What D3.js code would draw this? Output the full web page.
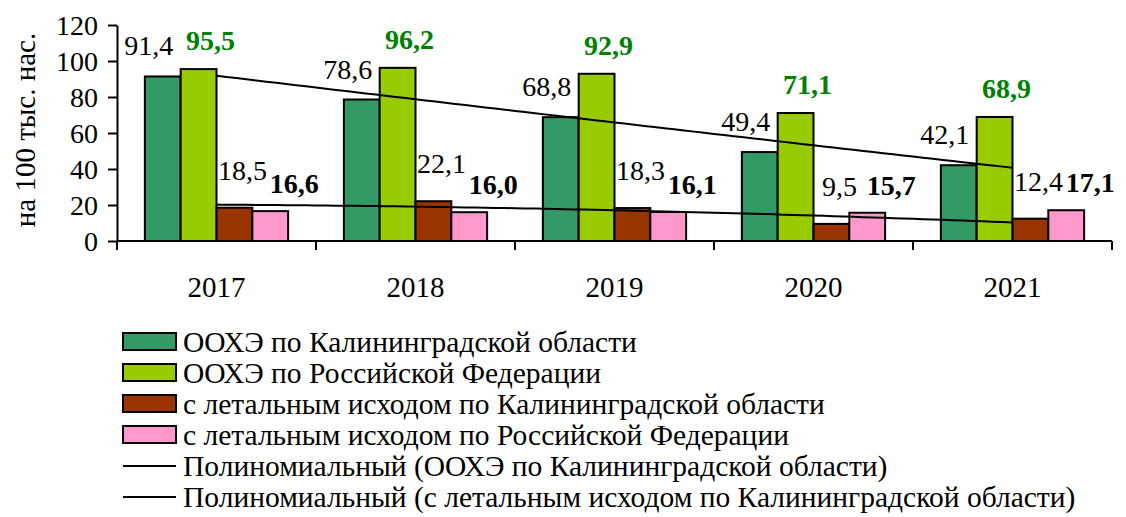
<!DOCTYPE html>
<html>
<head>
<meta charset="utf-8">
<script src="https://cdn.jsdelivr.net/npm/d3@7"></script>
</head>
<body style="margin:0;background:#fff">
<svg id="chart" width="1126" height="517" font-family="Liberation Serif"></svg>
<script>
var years = ["2017", "2018", "2019", "2020", "2021"];
var kalOoxe = [91.4, 78.6, 68.8, 49.4, 42.1];
var rfOoxe = [95.5, 96.2, 92.9, 71.1, 68.9];
var kalLethal = [18.5, 22.1, 18.3, 9.5, 12.4];
var rfLethal = [16.6, 16.0, 16.1, 15.7, 17.1];
var yTicks = [0, 20, 40, 60, 80, 100, 120];

var seriesNames = [
  "ООХЭ по Калининградской области",
  "ООХЭ по Российской Федерации",
  "с летальным исходом по Калининградской области",
  "с летальным исходом по Российской Федерации"
];
var trendNames = [
  "Полиномиальный (ООХЭ по Калининградской области)",
  "Полиномиальный (с летальным исходом по Калининградской области)"
];

var series = [
  {name: seriesNames[0], values: kalOoxe, color: "#339966", bold: false, label: "#000", dx: -14, dy: -21},
  {name: seriesNames[1], values: rfOoxe, color: "#99cc00", bold: true, label: "#008000", dx: 12, dy: -19},
  {name: seriesNames[2], values: kalLethal, color: "#993300", bold: false, label: "#000", dx: 8, dy: -28},
  {name: seriesNames[3], values: rfLethal, color: "#ff99cc", bold: true, label: "#000", dx: 24, dy: -18}
];

var FONT = "Liberation Serif";
var svg = d3.select("#chart");
var plotLeft = 117, plotRight = 1112, plotTop = 25, plotBottom = 241;

var x0 = d3.scaleBand().domain(years).range([plotLeft, plotRight]).padding(0);
var bw = x0.bandwidth();
var x1 = d3.scaleBand().domain(d3.range(series.length)).range([bw * 0.14, bw * 0.86]).padding(0);
var y = d3.scaleLinear().domain([0, 120]).range([plotBottom, plotTop]);

var fmt = function(v){ return v.toFixed(1).replace(".", ","); };

// bars
var groups = svg.append("g").selectAll("g")
  .data(years).join("g")
  .attr("transform", function(d){ return "translate(" + x0(d) + ",0)"; });

groups.selectAll("rect")
  .data(function(d, i){ return series.map(function(s, k){ return {k: k, v: s.values[i], s: s}; }); })
  .join("rect")
  .attr("x", function(d){ return x1(d.k); })
  .attr("y", function(d){ return y(d.v); })
  .attr("width", x1.bandwidth())
  .attr("height", function(d){ return y(0) - y(d.v); })
  .attr("fill", function(d){ return d.s.color; })
  .attr("stroke", "#000")
  .attr("stroke-width", 2);

// quadratic least squares trend (like excel polynomial order 2)
function polyFit(vals){
  var n = vals.length, t = d3.range(n).map(function(i){ return i - (n - 1) / 2; });
  var mean = d3.mean(vals);
  var st2 = d3.sum(t, function(v){ return v * v; });
  var b = d3.sum(t, function(v, i){ return v * vals[i]; }) / st2;
  var q = t.map(function(v){ return v * v - st2 / n; });
  var c = d3.sum(q, function(v, i){ return v * vals[i]; }) / d3.sum(q, function(v){ return v * v; });
  return function(i){ var tt = i - (n - 1) / 2; return mean + b * tt + c * (tt * tt - st2 / n); };
}

var cx = function(i){ return x0(years[i]) + bw / 2; };
[kalOoxe, kalLethal].forEach(function(vals){
  var f = polyFit(vals);
  var pts = d3.range(0, vals.length - 1 + 1e-9, 0.05).map(function(i){ return [cx(0) + (cx(vals.length - 1) - cx(0)) * i / (vals.length - 1), y(f(i))]; });
  svg.append("path")
    .attr("d", d3.line()(pts))
    .attr("fill", "none")
    .attr("stroke", "#000")
    .attr("stroke-width", 2);
});

// axes
var yAxis = svg.append("g")
  .attr("transform", "translate(" + plotLeft + ",0)")
  .call(d3.axisLeft(y).tickValues(yTicks).tickSize(9).tickSizeOuter(0).tickPadding(10).tickFormat(d3.format("d")));
yAxis.attr("font-family", FONT).attr("font-size", 28);
yAxis.selectAll("text").attr("dy", "0.34em").attr("fill", "#000");
yAxis.selectAll("line, path").attr("stroke", "#000").attr("stroke-width", 2);

var xAxis = svg.append("g");
xAxis.append("line")
  .attr("x1", plotLeft).attr("x2", plotRight).attr("y1", plotBottom).attr("y2", plotBottom)
  .attr("stroke", "#000").attr("stroke-width", 2);
xAxis.selectAll("line.tick")
  .data(years.concat(["end"])).join("line")
  .attr("class", "tick")
  .attr("x1", function(d, i){ return plotLeft + i * bw; })
  .attr("x2", function(d, i){ return plotLeft + i * bw; })
  .attr("y1", plotBottom).attr("y2", plotBottom + 9)
  .attr("stroke", "#000").attr("stroke-width", 2);
xAxis.selectAll("text")
  .data(years).join("text")
  .attr("x", function(d){ return x0(d) + bw / 2; })
  .attr("y", 297)
  .attr("text-anchor", "middle")
  .attr("font-family", FONT).attr("font-size", 29)
  .text(function(d){ return d; });

svg.append("text")
  .attr("transform", "translate(35,130) rotate(-90)")
  .attr("text-anchor", "middle")
  .attr("font-family", FONT).attr("font-size", 29)
  .text("на 100 тыс. нас.");

// data labels
groups.selectAll("text.lbl")
  .data(function(d, i){ return series.map(function(s, k){ return {k: k, v: s.values[i], s: s}; }); })
  .join("text")
  .attr("class", "lbl")
  .attr("x", function(d){ return x1(d.k) + x1.bandwidth() / 2 + d.s.dx; })
  .attr("y", function(d){ return y(d.v) + d.s.dy; })
  .attr("text-anchor", "middle")
  .attr("font-family", FONT).attr("font-size", 28)
  .attr("font-weight", function(d){ return d.s.bold ? "bold" : "normal"; })
  .attr("fill", function(d){ return d.s.label; })
  .text(function(d){ return fmt(d.v); });

// legend
var legendItems = series.map(function(s){ return {name: s.name, color: s.color, line: false}; })
  .concat(trendNames.map(function(n){ return {name: n, line: true}; }));
var leg = svg.append("g").selectAll("g")
  .data(legendItems).join("g")
  .attr("transform", function(d, i){ return "translate(123," + (352 + i * 31) + ")"; });
leg.filter(function(d){ return !d.line; }).append("rect")
  .attr("x", 0).attr("y", -19).attr("width", 53).attr("height", 17)
  .attr("fill", function(d){ return d.color; })
  .attr("stroke", "#000").attr("stroke-width", 2);
leg.filter(function(d){ return d.line; }).append("line")
  .attr("x1", 0).attr("x2", 53).attr("y1", -10).attr("y2", -10)
  .attr("stroke", "#000").attr("stroke-width", 2);
leg.append("text")
  .attr("x", 60).attr("y", 0)
  .attr("font-family", FONT).attr("font-size", 29.5)
  .text(function(d){ return d.name; });
</script>
</body>
</html>
